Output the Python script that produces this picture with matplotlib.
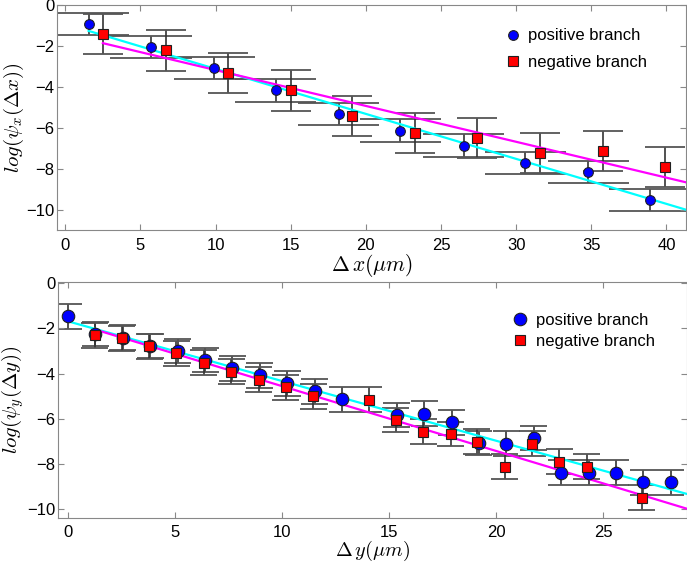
import numpy as np
import matplotlib
matplotlib.use('Agg')
from matplotlib import pyplot as plt

plt.rcParams['font.family'] = ['Liberation Sans', 'DejaVu Sans']
plt.rcParams['mathtext.fontset'] = 'cm'

# --- top panel: psi_x ---
x_pos = [1.55, 5.7, 9.9, 14.0, 18.2, 22.3, 26.5, 30.6, 34.8, 38.9]
y_pos = [-0.94, -2.03, -3.05, -4.16, -5.30, -6.11, -6.84, -7.69, -8.11, -9.48]
x_neg = [2.5, 6.67, 10.84, 15.0, 19.1, 23.29, 27.4, 31.6, 35.8, 39.9]
y_neg = [-1.40, -2.21, -3.30, -4.16, -5.41, -6.22, -6.49, -7.19, -7.09, -7.88]
err_pos_x = 0.54
err_neg_x = 0.98
fit_pos_x = (-0.219, -0.92)   # slope, intercept
fit_neg_x = (-0.1746, -1.42)

# --- bottom panel: psi_y ---
yx_pos = [0, 1.28, 2.56, 3.84, 5.12, 6.4, 7.68, 8.96, 10.24, 11.52, 12.8,
          15.36, 16.64, 17.92, 19.2, 20.48, 21.76, 23.04, 24.32, 25.6, 26.88, 28.16]
yy_pos = [-1.46, -2.25, -2.41, -2.78, -3.00, -3.40, -3.76, -4.07, -4.42, -4.79, -5.13,
          -5.83, -5.77, -6.16, -7.07, -7.10, -6.85, -8.39, -8.39, -8.39, -8.80, -8.80]
yx_neg = [1.24, 2.52, 3.80, 5.06, 6.34, 7.62, 8.9, 10.18, 11.46, 14.06,
          15.3, 16.6, 17.87, 19.1, 20.4, 21.7, 22.95, 24.24, 26.8]
yy_neg = [-2.30, -2.43, -2.80, -3.10, -3.51, -3.92, -4.28, -4.60, -5.01, -5.16,
          -6.05, -6.58, -6.67, -7.02, -8.12, -7.11, -7.90, -8.12, -9.49]
err_pos_y = 0.55
err_neg_y = 0.55
fit_pos_y = (-0.264, -1.69)
fit_neg_y = (-0.2866, -1.69)


def draw_branch(ax, xs, ys, err, cap, marker, color, ms, label):
    xs = np.array(xs)
    ys = np.array(ys)
    ax.vlines(xs, ys - err, ys + err, color='#333333', lw=1.2, zorder=1)
    ax.hlines(ys - err, xs - cap, xs + cap, color='#555555', lw=1.3, zorder=1)
    ax.hlines(ys + err, xs - cap, xs + cap, color='#555555', lw=1.3, zorder=1)
    ax.plot(xs, ys, ls='none', marker=marker, color=color, mec='#202020',
            mew=0.8, ms=ms, zorder=3, label=label)


def draw_fit(ax, fit, x0, x1, color):
    xx = np.array([x0, x1])
    ax.plot(xx, fit[0] * xx + fit[1], color=color, lw=1.6, zorder=2)


def style_axes(ax):
    for s in ax.spines.values():
        s.set_color('#888888')
    ax.tick_params(direction='in', top=True, right=True, color='#888888',
                   length=4.5, labelsize=12)
    ax.tick_params(axis='y', pad=2)
    ax.tick_params(axis='x', pad=6)


fig = plt.figure(figsize=(6.87, 5.63), dpi=100)

# top
ax1 = fig.add_axes([0.083, 0.5915, 0.9156, 0.3996])
draw_branch(ax1, x_pos, y_pos, err_pos_x, 2.7, 'o', '#0000ff', 7, 'positive branch')
draw_branch(ax1, x_neg, y_neg, err_neg_x, 1.33, 's', '#ff0000', 6.5, 'negative branch')
draw_fit(ax1, fit_pos_x, x_pos[0], 42, '#00ffff')
draw_fit(ax1, fit_neg_x, x_neg[0], 42, '#ff00ff')
ax1.set_xlim(-0.55, 41.3)
ax1.set_ylim(-10.95, 0)
ax1.set_xticks([0, 5, 10, 15, 20, 25, 30, 35, 40])
ax1.set_yticks([0, -2, -4, -6, -8, -10])
ax1.set_xlabel(r'$\Delta\, x(\mu m)$', fontsize=15.5)
ax1.set_ylabel(r'$log(\psi_x(\Delta x))$', fontsize=15)
ax1.xaxis.set_label_coords(0.5, -0.1)
ax1.yaxis.set_label_coords(-0.05, 0.5)
style_axes(ax1)
ax1.legend(loc='center left', bbox_to_anchor=(0.699, 0.803), frameon=False,
           fontsize=12, borderpad=0, handlelength=1.0, handletextpad=0.35,
           labelspacing=0.7, numpoints=1)

# bottom
ax2 = fig.add_axes([0.0844, 0.0794, 0.915, 0.4197])
draw_branch(ax2, yx_pos, yy_pos, err_pos_y, 0.63, 'o', '#0000ff', 9, 'positive branch')
draw_branch(ax2, yx_neg, yy_neg, err_neg_y, 0.63, 's', '#ff0000', 7, 'negative branch')
draw_fit(ax2, fit_pos_y, yx_pos[0], 30, '#00ffff')
draw_fit(ax2, fit_neg_y, yx_neg[0], 30, '#ff00ff')
ax2.set_xlim(-0.47, 28.9)
ax2.set_ylim(-10.4, 0.05)
ax2.set_xticks([0, 5, 10, 15, 20, 25])
ax2.set_yticks([0, -2, -4, -6, -8, -10])
ax2.tick_params(axis='x', pad=5)
ax2.set_xlabel(r'$\Delta\, y(\mu m)$', fontsize=14.5)
ax2.set_ylabel(r'$log(\psi_y(\Delta y))$', fontsize=15)
ax2.xaxis.set_label_coords(0.5, -0.088)
ax2.yaxis.set_label_coords(-0.0515, 0.5)
style_axes(ax2)
ax2.tick_params(axis='x', pad=5)
ax2.legend(loc='center left', bbox_to_anchor=(0.708, 0.793), frameon=False,
           fontsize=12, borderpad=0, handlelength=1.0, handletextpad=0.45,
           labelspacing=0.35, numpoints=1)

fig.savefig('out.png', dpi=100)
